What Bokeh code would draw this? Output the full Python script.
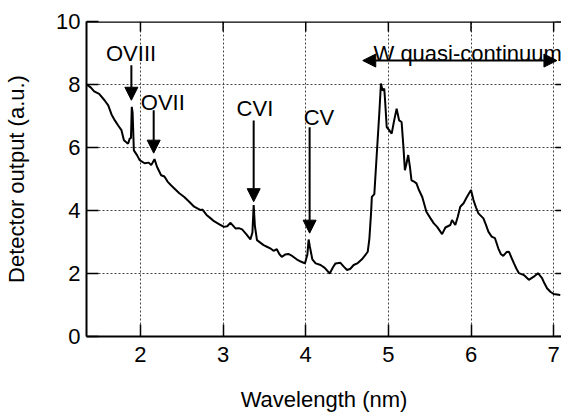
import math
from bokeh.plotting import figure
from bokeh.models import Range1d, Arrow, NormalHead, Label, FixedTicker, Span
from bokeh.embed import file_html
from bokeh.resources import INLINE

# Spectrum (wavelength in nm, detector output in a.u.)
wavelength = [1.35, 1.40, 1.44, 1.50, 1.565, 1.61, 1.65, 1.69, 1.73, 1.77, 1.80, 1.85, 1.87, 1.885,
              1.895, 1.905, 1.92, 1.96, 1.99, 2.05, 2.10, 2.13, 2.17, 2.20, 2.25, 2.29, 2.33, 2.37,
              2.41, 2.47, 2.53, 2.59, 2.65, 2.70, 2.73, 2.75, 2.80, 2.85, 2.89, 2.95, 3.01, 3.05,
              3.09, 3.12, 3.15, 3.19, 3.23, 3.28, 3.33, 3.355, 3.37, 3.385, 3.41, 3.45, 3.49, 3.53,
              3.57, 3.61, 3.65, 3.68, 3.71, 3.75, 3.79, 3.84, 3.89, 3.94, 3.99, 4.02, 4.035, 4.05,
              4.08, 4.12, 4.18, 4.23, 4.29, 4.33, 4.36, 4.42, 4.46, 4.50, 4.54, 4.58, 4.63, 4.68,
              4.72, 4.75, 4.77, 4.79, 4.80, 4.83, 4.86, 4.89, 4.91, 4.93, 4.95, 4.96, 4.98, 5.01,
              5.04, 5.07, 5.10, 5.13, 5.16, 5.18, 5.20, 5.22, 5.24, 5.26, 5.28, 5.31, 5.34, 5.37,
              5.41, 5.46, 5.51, 5.55, 5.59, 5.65, 5.69, 5.75, 5.77, 5.81, 5.84, 5.87, 5.91, 5.95,
              6.00, 6.03, 6.06, 6.09, 6.15, 6.18, 6.21, 6.25, 6.29, 6.33, 6.36, 6.39, 6.43, 6.46,
              6.49, 6.52, 6.55, 6.58, 6.64, 6.70, 6.76, 6.81, 6.86, 6.89, 6.92, 6.96, 7.00, 7.08]
output = [8.00, 7.90, 7.78, 7.70, 7.50, 7.34, 7.05, 6.86, 6.70, 6.55, 6.23, 6.12, 6.28, 6.30,
          7.29, 7.10, 5.91, 5.75, 5.60, 5.50, 5.52, 5.44, 5.63, 5.39, 5.12, 5.08, 4.91, 4.80,
          4.70, 4.55, 4.43, 4.28, 4.12, 4.05, 4.01, 4.03, 3.86, 3.75, 3.66, 3.57, 3.48, 3.50,
          3.61, 3.52, 3.43, 3.44, 3.40, 3.25, 3.08, 3.30, 4.17, 3.50, 3.06, 2.98, 2.90, 2.85,
          2.80, 2.72, 2.77, 2.62, 2.53, 2.60, 2.62, 2.55, 2.45, 2.38, 2.32, 2.60, 3.08, 2.85,
          2.45, 2.32, 2.27, 2.18, 2.00, 2.20, 2.32, 2.34, 2.22, 2.11, 2.15, 2.27, 2.33, 2.45,
          2.58, 2.69, 3.10, 3.90, 4.43, 4.52, 5.81, 7.08, 8.03, 7.81, 7.87, 7.50, 6.65, 6.55,
          6.44, 6.86, 7.23, 6.86, 6.81, 6.10, 5.28, 5.50, 5.76, 5.40, 4.96, 4.92, 4.86, 4.65,
          4.43, 3.96, 3.75, 3.59, 3.48, 3.25, 3.46, 3.54, 3.70, 3.54, 3.80, 4.12, 4.23, 4.43,
          4.65, 4.33, 4.10, 3.91, 3.75, 3.55, 3.33, 3.17, 3.12, 2.80, 2.62, 2.56, 2.68, 2.69,
          2.50, 2.32, 2.15, 2.01, 1.95, 1.80, 1.90, 2.01, 1.85, 1.68, 1.53, 1.42, 1.35, 1.32]

x_ticks = [2, 3, 4, 5, 6, 7]
y_ticks = [0, 2, 4, 6, 8, 10]
x_lim = (1.347, 7.095)
y_lim = (0, 10)

# Line annotations: name, arrow x, arrow top y, arrow tip y, label x, label baseline y
line_names = ["OVIII", "OVII", "CVI", "CV"]
arrow_x = [1.89, 2.16, 3.37, 4.047]
arrow_top = [8.61, 7.18, 6.86, 6.64]
arrow_tip = [7.50, 5.82, 4.28, 3.28]
label_x = [1.886, 2.27, 3.385, 4.16]
label_y = [8.99, 7.43, 7.24, 6.96]

# W quasi-continuum range
w_start, w_end, w_y = 4.69, 7.04, 8.76
w_label_x, w_label_y = 4.82, 8.99

FONT = "Liberation Sans"

p = figure(width=561, height=414, output_backend="svg", toolbar_location=None,
           x_range=Range1d(*x_lim), y_range=Range1d(*y_lim),
           x_axis_label="Wavelength (nm)", y_axis_label="Detector output (a.u.)",
           min_border_left=86, min_border_top=21, min_border_bottom=77, min_border_right=0)
p.outline_line_color = None
p.background_fill_color = "white"
p.border_fill_color = "white"

# grid
p.xgrid.ticker = FixedTicker(ticks=x_ticks)
p.ygrid.ticker = FixedTicker(ticks=y_ticks)
for g in (p.xgrid[0], p.ygrid[0]):
    g.grid_line_color = "#444444"
    g.grid_line_dash = "2 2"
    g.grid_line_width = 1

p.line(wavelength, output, line_color="black", line_width=2)

for ax in (p.xaxis[0], p.yaxis[0]):
    ax.axis_line_width = 2
    ax.axis_line_color = "black"
    ax.major_tick_in = 12
    ax.major_tick_out = 0
    ax.major_tick_line_width = 1.5
    ax.minor_tick_line_color = None
    ax.major_label_text_font = FONT
    ax.major_label_text_font_size = "22px"
    ax.major_label_text_color = "black"
    ax.axis_label_text_font = FONT
    ax.axis_label_text_font_size = "22px"
    ax.axis_label_text_font_style = "normal"
    ax.axis_label_text_color = "black"

p.xaxis[0].ticker = FixedTicker(ticks=x_ticks)
p.yaxis[0].ticker = FixedTicker(ticks=y_ticks)
p.xaxis[0].major_label_standoff = 10
p.xaxis[0].axis_label_standoff = 22
p.yaxis[0].major_label_standoff = 6
p.yaxis[0].axis_label_standoff = 24

# top frame line and inward ticks on top and right sides
p.add_layout(Span(location=y_lim[1], dimension="width", line_color="black", line_width=2.5))
p.ray(x=x_ticks, y=[y_lim[1]] * len(x_ticks), length=10, length_units="screen",
      angle=-math.pi / 2, line_color="black", line_width=1.5)
p.ray(x=[x_lim[1]] * len(y_ticks), y=y_ticks, length=6, length_units="screen",
      angle=math.pi, line_color="black", line_width=1.5)

for name, ax_, at, tip, lx, ly in zip(line_names, arrow_x, arrow_top, arrow_tip, label_x, label_y):
    p.add_layout(Arrow(x_start=ax_, y_start=at, x_end=ax_, y_end=tip, line_width=2,
                       end=NormalHead(size=13, fill_color="black", line_color="black")))
    p.add_layout(Label(x=lx, y=ly, text=name, text_align="center", text_baseline="alphabetic",
                       text_font=FONT, text_font_size="22px", text_color="black"))

p.add_layout(Arrow(x_start=w_start, y_start=w_y, x_end=w_end, y_end=w_y, line_width=2,
                   start=NormalHead(size=13, fill_color="black", line_color="black"),
                   end=NormalHead(size=13, fill_color="black", line_color="black")))
p.add_layout(Label(x=w_label_x, y=w_label_y, text="W quasi-continuum", text_align="left",
                   text_baseline="alphabetic", text_font=FONT, text_font_size="22px",
                   text_color="black"))

open("out.html", "w").write(file_html(p, INLINE))
